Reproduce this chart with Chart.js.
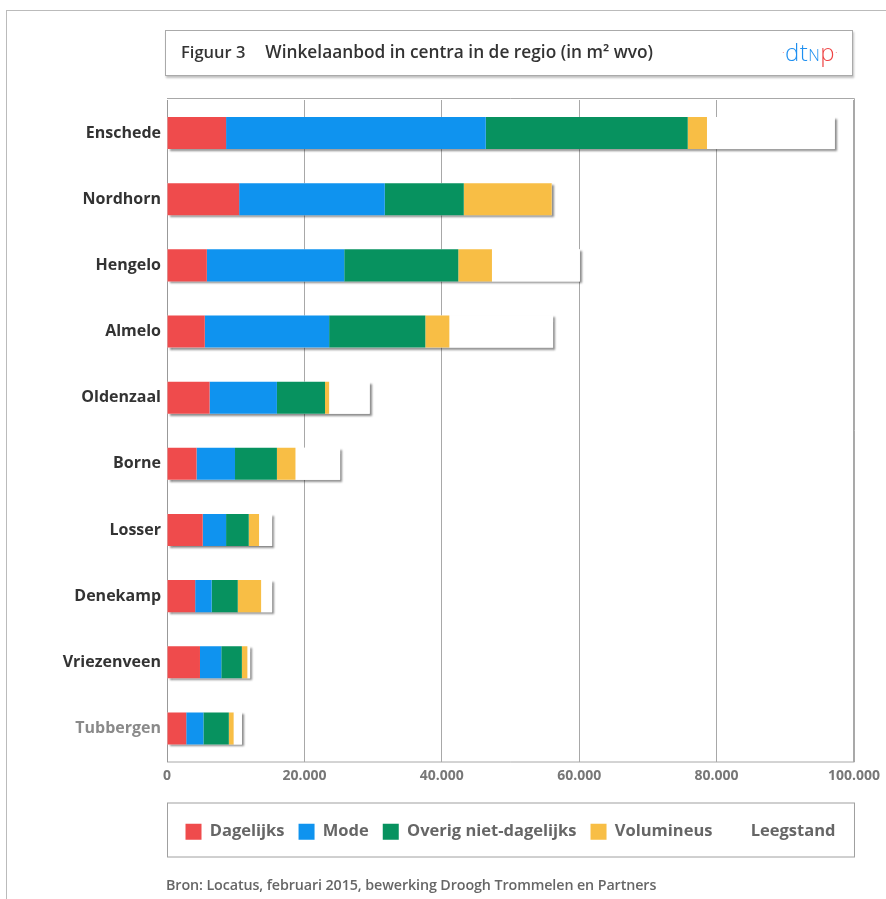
<!DOCTYPE html>
<html>
<head>
<meta charset="utf-8">
<script src="https://cdn.jsdelivr.net/npm/chart.js@4/dist/chart.umd.min.js"></script>
<style>
  html, body { margin:0; padding:0; background:#fff; }
  body { width:886px; height:899px; position:relative; overflow:hidden; font-family:"Open Sans", sans-serif; }
  #frame { position:absolute; left:6px; top:10px; width:900px; height:900px; border-left:1px solid #bbb; border-top:1px solid #bbb; }
  #wrap { position:absolute; left:0; top:0; width:886px; height:899px; }
  #titlebox { position:absolute; left:165px; top:30px; width:686px; height:44px; border:1px solid #aaa; box-shadow:1px 2px 2px rgba(0,0,0,0.25); background:#fff; }
  #title { position:absolute; left:15px; top:9px; font-size:16.5px; font-weight:600; color:#333; white-space:nowrap; }
  #title .fig { margin-right:20px; }
  #title .main { font-size:17.3px; }
  #logo { position:absolute; right:14px; top:4px; font-family:"Open Sans", sans-serif; font-weight:300; font-size:24px; letter-spacing:0.5px; white-space:nowrap; }
  #logo .b { color:#1e8ff0; }
  #logo .n { color:#1e8ff0; font-size:16px; }
  #logo .r { color:#ee4444; }
  #logo .dot { font-size:10px; vertical-align:5px; }
  #source { position:absolute; left:166px; top:875px; font-size:14.3px; font-weight:600; color:#666; white-space:nowrap; letter-spacing:-0.1px; }
</style>
</head>
<body>
<div id="frame"></div>
<div id="wrap"><canvas id="c" width="886" height="899"></canvas></div>
<div id="titlebox">
  <div id="title"><span class="fig">Figuur 3</span><span class="main">Winkelaanbod in centra in de regio (in m² wvo)</span></div>
  <div id="logo"><span class="r dot">·</span><span class="b">dt</span><span class="n">N</span><span class="r">p</span><span class="r dot">·</span></div>
</div>
<div id="source">Bron: Locatus, februari 2015, bewerking Droogh Trommelen en Partners</div>
<script>
const categories = ['Enschede','Nordhorn','Hengelo','Almelo','Oldenzaal','Borne','Losser','Denekamp','Vriezenveen','Tubbergen'];
const seriesNames = ['Dagelijks','Mode','Overig niet-dagelijks','Volumineus','Leegstand'];
const dagelijks   = [8600, 10500, 5800, 5500, 6200, 4300, 5200, 4100, 4800, 2800];
const mode        = [37800, 21200, 20000, 18100, 9800, 5600, 3400, 2400, 3100, 2500];
const overig      = [29400, 11500, 16600, 14000, 7000, 6100, 3300, 3800, 3000, 3700];
const volumineus  = [2800, 12800, 4900, 3500, 600, 2700, 1500, 3400, 800, 700];
const leegstand   = [18600, 0, 12800, 15100, 5900, 6500, 1900, 1600, 400, 1200];
const xTicks = [0, 20000, 40000, 60000, 80000, 100000];
const colors = ['#ef4b4c', '#0f93ef', '#07925f', '#f8be45', '#ffffff'];

const seriesData = [dagelijks, mode, overig, volumineus, leegstand];
const FONT = '"Open Sans", sans-serif';

function fmt(v){ return String(v).replace(/\B(?=(\d{3})+(?!\d))/g, '.'); }

const shadowPlugin = {
  id: 'barShadow',
  beforeDatasetsDraw(chart) {
    const ctx = chart.ctx;
    const last = chart.getDatasetMeta(seriesData.length - 1);
    const first = chart.getDatasetMeta(0);
    ctx.save();
    ctx.shadowColor = 'rgba(0,0,0,0.45)';
    ctx.shadowBlur = 2;
    ctx.shadowOffsetX = 2;
    ctx.shadowOffsetY = 2;
    ctx.fillStyle = '#ffffff';
    last.data.forEach((el, i) => {
      const x0 = first.data[i].base;
      const x1 = el.x;
      const h = el.height;
      ctx.fillRect(x0, el.y - h/2, x1 - x0, h);
    });
    ctx.restore();
  }
};

const framePlugin = {
  id: 'frames',
  afterLayout(chart) {
    const a = chart.chartArea, lg = chart.legend;
    lg.left = a.left - 40;
    lg.right = a.right + 40;
  },
  beforeDraw(chart) {
    const ctx = chart.ctx, a = chart.chartArea;
    ctx.save();
    ctx.strokeStyle = '#a8a8a8';
    ctx.lineWidth = 1;
    ctx.beginPath();
    ctx.moveTo(a.left, a.top - 2 + 0.5);
    ctx.lineTo(a.right + 0.5, a.top - 2 + 0.5);
    ctx.lineTo(a.right + 0.5, a.bottom + 0.5);
    ctx.lineTo(a.left, a.bottom + 0.5);
    ctx.stroke();
    const lg = chart.legend;
    ctx.strokeStyle = '#a0a0a0';
    ctx.strokeRect(a.left + 0.5, lg.top - 7 + 0.5, a.right - a.left, 54);
    ctx.restore();
  }
};

new Chart(document.getElementById('c'), {
  type: 'bar',
  data: {
    labels: categories,
    datasets: seriesData.map((d, i) => ({
      label: seriesNames[i],
      data: d,
      backgroundColor: colors[i],
      borderWidth: 0,
      categoryPercentage: 1,
      barPercentage: 0.485
    }))
  },
  options: {
    indexAxis: 'y',
    responsive: false,
    animation: false,
    devicePixelRatio: 1,
    layout: { padding: { top: 100, right: 32, left: 0, bottom: 49 } },
    scales: {
      x: {
        stacked: true,
        min: 0, max: 100000,
        afterBuildTicks(s) { s.ticks = xTicks.map(v => ({ value: v })); },
        afterFit(s) { s.height = 48; },
        grid: { color: '#a8a8a8', lineWidth: 1, drawTicks: false },
        border: { display: false },
        ticks: {
          padding: 6,
          color: '#777',
          font: { family: FONT, size: 14, weight: 'bold' },
          callback: v => fmt(v)
        }
      },
      y: {
        stacked: true,
        afterFit(s) { s.width = 167; },
        grid: { display: false, drawTicks: false, tickLength: 0 },
        border: { display: true, color: '#999', dash: [2, 2] },
        ticks: {
          padding: 6,
          color: c => c.index === 9 ? '#8a8a8a' : '#333',
          font: { family: FONT, size: 16, weight: 'bold' }
        }
      }
    },
    plugins: {
      legend: {
        position: 'bottom',
        labels: {
          boxWidth: 16, boxHeight: 16,
          padding: 14,
          color: '#666',
          font: { family: FONT, size: 16.5, weight: 'bold' }
        }
      },
      tooltip: { enabled: false }
    }
  },
  plugins: [framePlugin, shadowPlugin]
});
</script>
</body>
</html>
